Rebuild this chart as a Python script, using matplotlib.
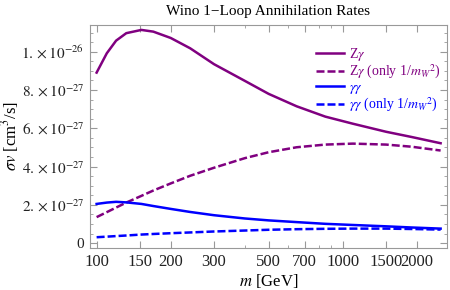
import matplotlib
matplotlib.use('Agg')
import matplotlib.pyplot as plt
from matplotlib.ticker import FixedLocator, NullFormatter, LogLocator

plt.rcParams['font.family'] = ['Liberation Serif', 'DejaVu Serif']
plt.rcParams['mathtext.fontset'] = 'stix'

# masses (GeV)
m = [100, 110, 120, 132, 152, 170, 200, 240, 300, 400, 500, 650, 850, 1100, 1500, 1900, 2500]

# sigma v in units of 1e-27 cm^3/s
zg = [8.91, 9.92, 10.58, 10.97, 11.14, 11.05, 10.72, 10.18, 9.35, 8.48, 7.80, 7.15, 6.61, 6.24, 5.82, 5.55, 5.22]
zg_mw = [1.36, 1.62, 1.86, 2.12, 2.47, 2.75, 3.12, 3.52, 3.94, 4.44, 4.75, 5.01, 5.15, 5.20, 5.15, 5.04, 4.84]
gg = [2.05, 2.12, 2.16, 2.13, 2.05, 1.94, 1.79, 1.63, 1.46, 1.29, 1.19, 1.10, 1.01, 0.95, 0.88, 0.82, 0.76]
gg_mw = [0.31, 0.34, 0.37, 0.40, 0.45, 0.48, 0.52, 0.56, 0.61, 0.66, 0.70, 0.73, 0.75, 0.76, 0.76, 0.74, 0.71]

xticks = [100, 150, 200, 300, 500, 700, 1000, 1500, 2000]
yticks = [0, 2, 4, 6, 8, 10]
ylabels = ['0', r'$2.\times10^{-27}$', r'$4.\times10^{-27}$', r'$6.\times10^{-27}$',
           r'$8.\times10^{-27}$', r'$1.\times10^{-26}$']

purple = '#800080'
blue = '#0000ff'
dash = (0, (3.2, 1.2))

fig = plt.figure(figsize=(4.5, 2.9), dpi=100)
ax = fig.add_axes([0.2, 0.145, 0.793, 0.769])

ax.plot(m, zg, color=purple, lw=1.8, label=r'Z$\gamma$')
ax.plot(m, zg_mw, color=purple, lw=1.8, ls=dash, label=r'Z$\gamma$ (only 1/$m_W{}^2$)')
ax.plot(m, gg, color=blue, lw=1.8, label=r'$\gamma\gamma$')
ax.plot(m, gg_mw, color=blue, lw=1.8, ls=dash, label=r'$\gamma\gamma$ (only 1/$m_W{}^2$)')

ax.set_xscale('log')
ax.set_xlim(94, 2650)
ax.set_ylim(-0.25, 11.4)
ax.xaxis.set_major_locator(FixedLocator(xticks))
ax.set_xticklabels([str(t) for t in xticks])
ax.xaxis.set_minor_locator(LogLocator(subs=[1, 2, 3, 4, 5, 6, 7, 8, 9], numticks=20))
ax.xaxis.set_minor_formatter(NullFormatter())
ax.set_yticks(yticks)
ax.set_yticklabels(ylabels)
ax.set_yticks([0.5 * i for i in range(23)], minor=True)

for s in ax.spines.values():
    s.set_color('#999999')
    s.set_linewidth(0.8)
ax.tick_params(which='both', direction='in', top=True, right=True, color='#999999',
               labelcolor='#222222', pad=4)
ax.tick_params(axis='y', labelsize=11)
ax.tick_params(axis='x', labelsize=12)
ax.tick_params(which='major', length=5)
ax.tick_params(which='minor', length=2.5)

ax.set_title('Wino 1\u2212Loop Annihilation Rates', fontsize=11, pad=7)
ax.set_xlabel(r'$m$ [GeV]', fontsize=12, labelpad=2)
ax.set_ylabel(r'$\sigma v$ [cm$^3$/s]', fontsize=12)
ax.yaxis.set_label_coords(-0.193, 0.5)

leg = ax.legend(loc='upper right', bbox_to_anchor=(1.01, 0.95), frameon=False, fontsize=10,
                handlelength=2.0, handletextpad=0.4, labelspacing=0.0, borderpad=0.2)
for txt, c in zip(leg.get_texts(), [purple, purple, blue, blue]):
    txt.set_color(c)

fig.savefig('out.png', dpi=100)
